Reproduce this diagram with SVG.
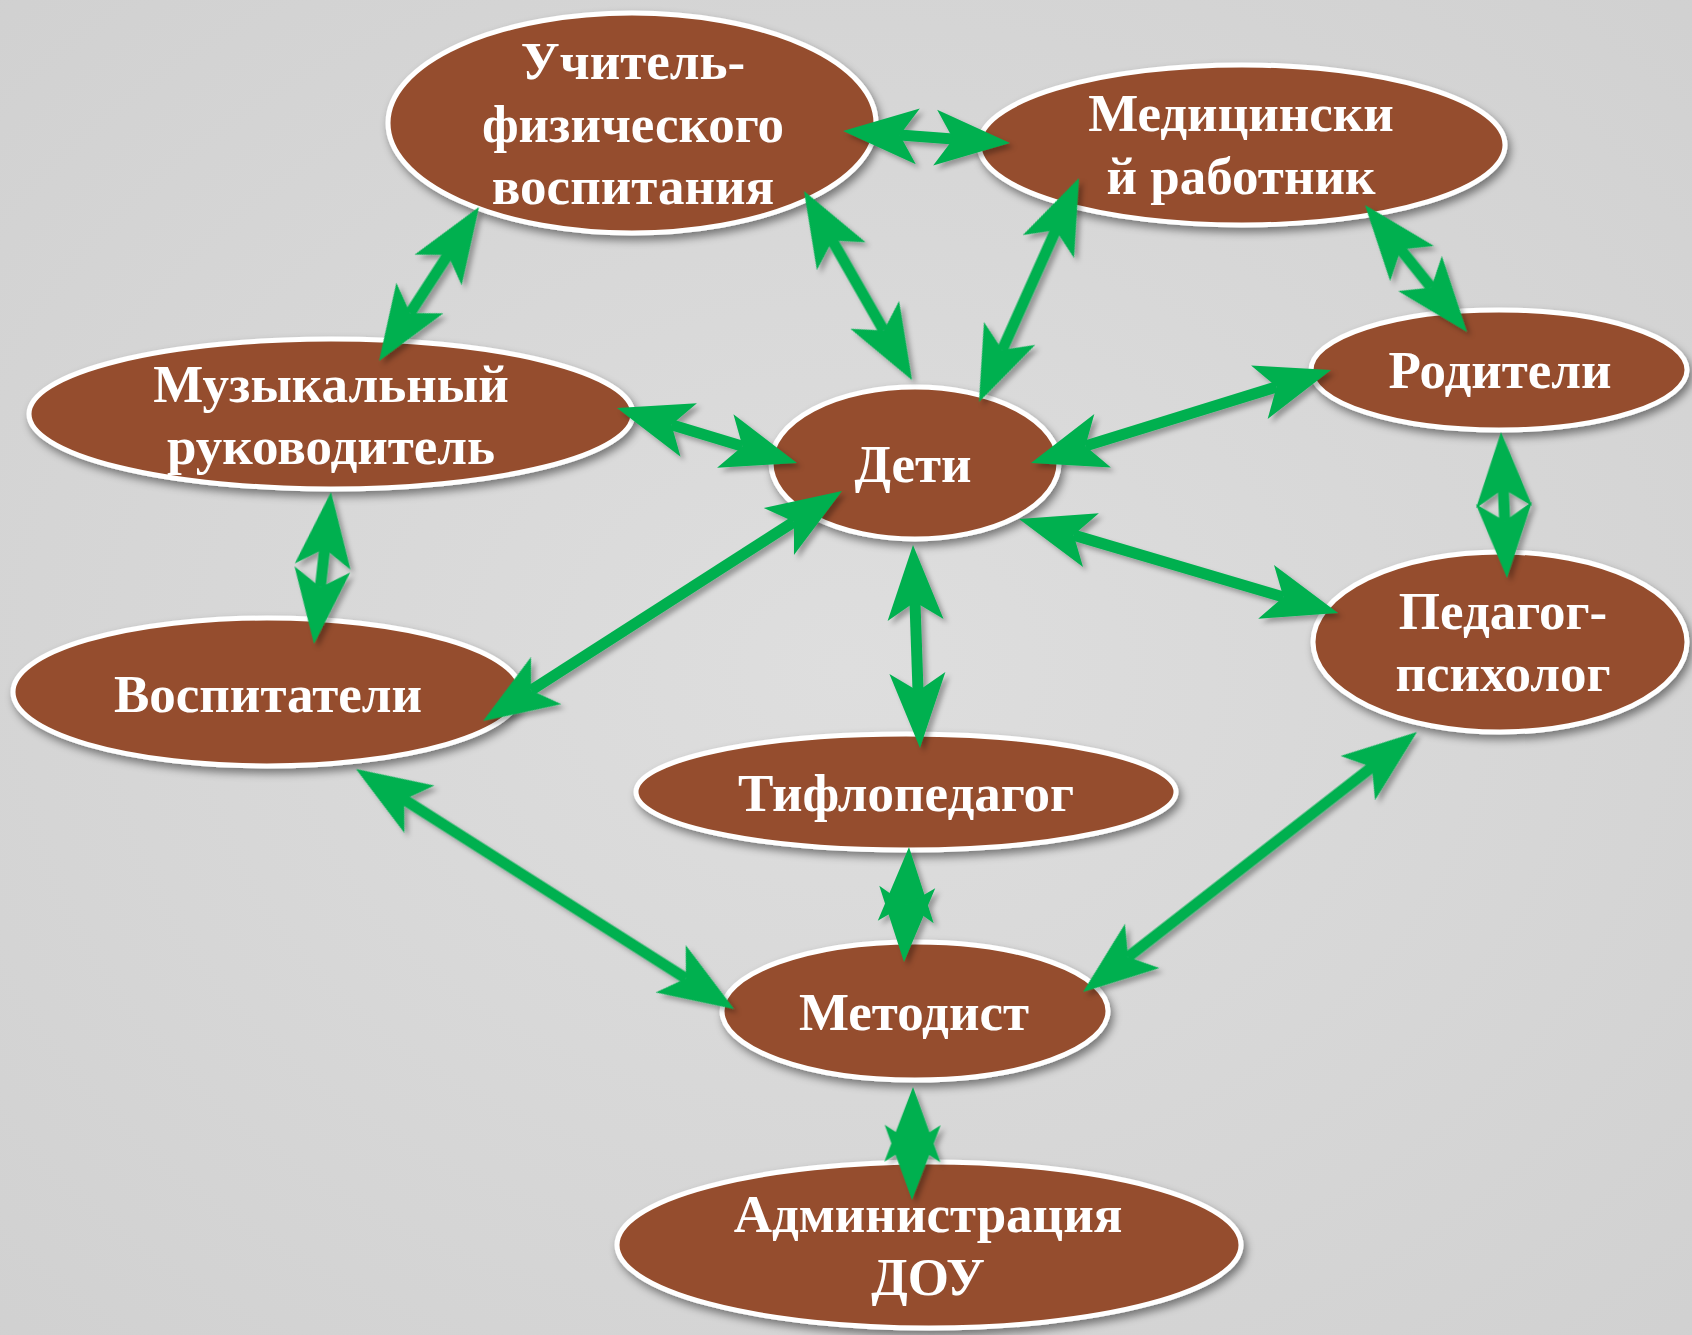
<svg xmlns="http://www.w3.org/2000/svg" xmlns:xlink="http://www.w3.org/1999/xlink" width="1692" height="1335" viewBox="0 0 1692 1335">
<defs>
  <radialGradient id="bg" cx="50%" cy="50%" r="75%">
    <stop offset="0" stop-color="#DEDEDE"/>
    <stop offset="1" stop-color="#D0D0D0"/>
  </radialGradient>
  <filter id="sh" x="-10%" y="-10%" width="125%" height="130%">
    <feDropShadow dx="3" dy="5" stdDeviation="4" flood-color="#000" flood-opacity="0.45"/>
  </filter>
  <filter id="ash" x="-20%" y="-20%" width="140%" height="140%">
    <feDropShadow dx="4" dy="4" stdDeviation="2.5" flood-color="#000" flood-opacity="0.3"/>
  </filter>
  <polygon id="hd" points="0,0 75,-28 57,0 75,28"/>
  <style>
    .nd ellipse { fill: #954E2D; stroke: #FFFFFF; stroke-width: 5; filter: url(#sh); }
    .nd text { font-family: "Liberation Serif", "Times New Roman", serif; font-weight: bold; font-size: 53px; fill: #FFFFFF; text-anchor: middle; }
    #connectors { fill: #00B050; filter: url(#ash); }
  </style>
</defs>
<rect width="1692" height="1335" fill="url(#bg)"/>

<g id="n-uchitel" class="nd">
  <ellipse cx="632" cy="123" rx="244" ry="110"/>
  <text x="633" y="79">Учитель-</text>
  <text x="633" y="142">физического</text>
  <text x="633" y="204">воспитания</text>
</g>
<g id="n-med" class="nd">
  <ellipse cx="1242" cy="145" rx="263" ry="80"/>
  <text x="1241" y="131">Медицински</text>
  <text x="1241" y="194">й работник</text>
</g>
<g id="n-roditeli" class="nd">
  <ellipse cx="1499" cy="370" rx="188" ry="60"/>
  <text x="1500" y="388">Родители</text>
</g>
<g id="n-muz" class="nd">
  <ellipse cx="331" cy="414" rx="302" ry="75"/>
  <text x="331" y="402">Музыкальный</text>
  <text x="331" y="464">руководитель</text>
</g>
<g id="n-deti" class="nd">
  <ellipse cx="915" cy="463" rx="144" ry="76"/>
  <text x="913" y="482">Дети</text>
</g>
<g id="n-vosp" class="nd">
  <ellipse cx="267" cy="692" rx="254" ry="74"/>
  <text x="268" y="712">Воспитатели</text>
</g>
<g id="n-psih" class="nd">
  <ellipse cx="1500" cy="642" rx="187" ry="90"/>
  <text x="1503" y="629">Педагог-</text>
  <text x="1503" y="691">психолог</text>
</g>
<g id="n-tiflo" class="nd">
  <ellipse cx="906" cy="792" rx="270" ry="58"/>
  <text x="906" y="811">Тифлопедагог</text>
</g>
<g id="n-metod" class="nd">
  <ellipse cx="915" cy="1011" rx="193" ry="69"/>
  <text x="914" y="1030">Методист</text>
</g>
<g id="n-admin" class="nd">
  <ellipse cx="929" cy="1245" rx="312" ry="83"/>
  <text x="928" y="1232">Администрация</text>
  <text x="928" y="1295">ДОУ</text>
</g>

<g id="connectors">
  <g transform="translate(843 131) rotate(4.11)"><rect x="57" y="-5.5" width="53.4" height="11"/><use xlink:href="#hd"/><use xlink:href="#hd" transform="translate(167.4 0) scale(-1 1)"/></g>
  <g transform="translate(479 207) rotate(123.0)"><rect x="57" y="-5.5" width="69.6" height="11"/><use xlink:href="#hd"/><use xlink:href="#hd" transform="translate(183.6 0) scale(-1 1)"/></g>
  <g transform="translate(804 191) rotate(60.26)"><rect x="57" y="-5.5" width="103.7" height="11"/><use xlink:href="#hd"/><use xlink:href="#hd" transform="translate(217.7 0) scale(-1 1)"/></g>
  <g transform="translate(1079 178) rotate(114.06)"><rect x="57" y="-5.5" width="131.3" height="11"/><use xlink:href="#hd"/><use xlink:href="#hd" transform="translate(245.3 0) scale(-1 1)"/></g>
  <g transform="translate(1365 205) rotate(51.23)"><rect x="57" y="-5.5" width="48.9" height="11"/><use xlink:href="#hd"/><use xlink:href="#hd" transform="translate(162.9 0) scale(-1 1)"/></g>
  <g transform="translate(617 408) rotate(16.99)"><rect x="57" y="-5.5" width="74.2" height="11"/><use xlink:href="#hd"/><use xlink:href="#hd" transform="translate(188.2 0) scale(-1 1)"/></g>
  <g transform="translate(1331 370) rotate(162.78)"><rect x="57" y="-5.5" width="200.1" height="11"/><use xlink:href="#hd"/><use xlink:href="#hd" transform="translate(314.1 0) scale(-1 1)"/></g>
  <g transform="translate(331 492) rotate(96.38)"><rect x="57" y="-5.5" width="38.9" height="11"/><use xlink:href="#hd"/><use xlink:href="#hd" transform="translate(152.9 0) scale(-1 1)"/></g>
  <g transform="translate(842 491) rotate(147.35)"><rect x="57" y="-5.5" width="312.4" height="11"/><use xlink:href="#hd"/><use xlink:href="#hd" transform="translate(426.4 0) scale(-1 1)"/></g>
  <g transform="translate(1019 519) rotate(16.42)"><rect x="57" y="-5.5" width="218.6" height="11"/><use xlink:href="#hd"/><use xlink:href="#hd" transform="translate(332.6 0) scale(-1 1)"/></g>
  <g transform="translate(1501 432) rotate(87.65)"><rect x="57" y="-5.5" width="32.1" height="11"/><use xlink:href="#hd"/><use xlink:href="#hd" transform="translate(146.1 0) scale(-1 1)"/></g>
  <g transform="translate(913 545) rotate(88.03)"><rect x="57" y="-5.5" width="89.1" height="11"/><use xlink:href="#hd"/><use xlink:href="#hd" transform="translate(203.1 0) scale(-1 1)"/></g>
  <g transform="translate(356 769) rotate(32.41)"><rect x="57" y="-5.5" width="333.8" height="11"/><use xlink:href="#hd"/><use xlink:href="#hd" transform="translate(447.8 0) scale(-1 1)"/></g>
  <g transform="translate(909 847) rotate(92.49)"><rect x="57" y="-5.5" width="1.1" height="11"/><use xlink:href="#hd"/><use xlink:href="#hd" transform="translate(115.1 0) scale(-1 1)"/></g>
  <g transform="translate(1417 732) rotate(142.10)"><rect x="57" y="-5.5" width="309.3" height="11"/><use xlink:href="#hd"/><use xlink:href="#hd" transform="translate(423.3 0) scale(-1 1)"/></g>
  <g transform="translate(913 1087) rotate(90.5)"><rect x="57" y="-5.5" width="1" height="11"/><use xlink:href="#hd"/><use xlink:href="#hd" transform="translate(113 0) scale(-1 1)"/></g>
</g>
</svg>
